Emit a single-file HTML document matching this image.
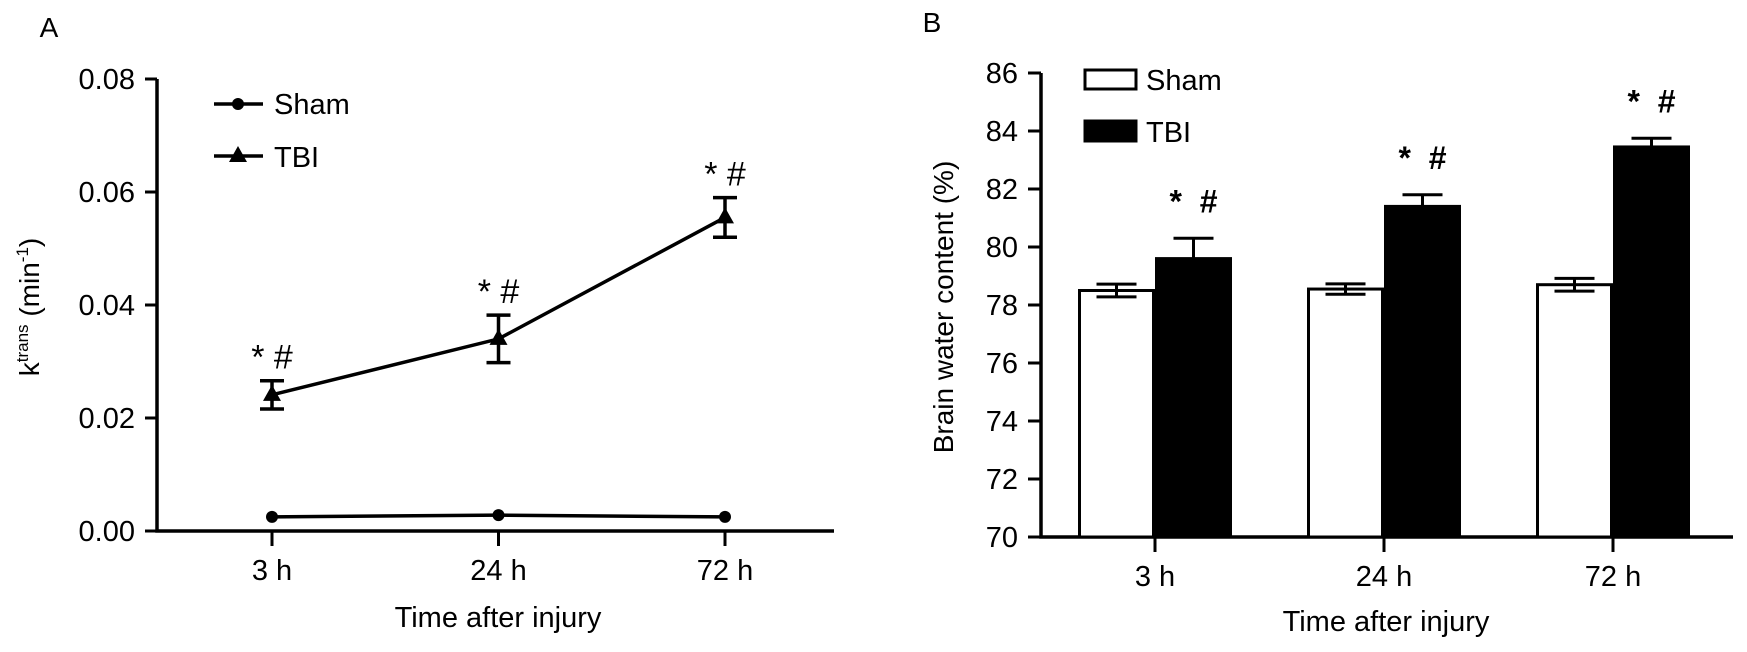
<!DOCTYPE html>
<html><head><meta charset="utf-8"><style>
html,body{margin:0;padding:0;background:#fff;}
svg{display:block;font-family:"Liberation Sans",Arial,sans-serif;}
</style></head><body>
<svg id="fig" width="1747" height="652" viewBox="0 0 1747 652">
<g id="panelA"></g>
<g id="panelB"></g>
</svg>
<script>
const categories = ["3 h","24 h","72 h"];
// Panel A
const aTicks = [0,0.02,0.04,0.06,0.08];
const aTickLabels = ["0.00","0.02","0.04","0.06","0.08"];
const aSham = [0.0025,0.0028,0.0025];
const aTbi = [0.0241,0.0340,0.0555];
const aTbiErr = [0.0025,0.0042,0.0035];
// Panel B
const bTicks = [70,72,74,76,78,80,82,84,86];
const bSham = [78.5,78.55,78.7];
const bShamErr = [0.22,0.18,0.22];
const bTbi = [79.6,81.4,83.45];
const bTbiErr = [0.7,0.4,0.3];

const NS="http://www.w3.org/2000/svg";
function mk(parent,tag,attrs,text){const e=document.createElementNS(NS,tag);for(const k in attrs)e.setAttribute(k,attrs[k]);if(text!==undefined)e.textContent=text;parent.appendChild(e);return e;}

// ---------- Panel A ----------
const A=document.getElementById('panelA');
const ayA=v=>531-(v-0)/0.08*452;
const axA=i=>272+i*226.5;
let t=mk(A,'text',{x:49,y:37,'font-size':28,'text-anchor':'middle'},'A');


let l=mk(A,'path',{d:`M157 ${ayA(0.08)} V531 H834`,stroke:'#000','stroke-width':3.5,fill:'none'});


aTicks.forEach((v,i)=>{
  const y=ayA(v);
  const tk=mk(A,'line',{x1:145,x2:157,y1:y,y2:y,stroke:'#000','stroke-width':3});
  
  
  const tl=mk(A,'text',{x:135,y:y+10,'font-size':29,'text-anchor':'end'},aTickLabels[i]);
  
  
});
categories.forEach((c,i)=>{
  const x=axA(i);
  const tk=mk(A,'line',{x1:x,x2:x,y1:531,y2:546,stroke:'#000','stroke-width':3});
  
  
  const tl=mk(A,'text',{x:x,y:580,'font-size':29,'text-anchor':'middle'},c);
  
  
});
t=mk(A,'text',{x:498,y:627,'font-size':29,'text-anchor':'middle'},'Time after injury');


t=mk(A,'text',{x:0,y:0,'font-size':28,'text-anchor':'middle',transform:'translate(39,307) rotate(-90)'});


t.innerHTML='k<tspan font-size="17" dy="-11">trans</tspan><tspan dy="11"> (min</tspan><tspan font-size="17" dy="-11">-1</tspan><tspan dy="11">)</tspan>';
l=mk(A,'polyline',{points:aSham.map((v,i)=>axA(i)+','+ayA(v)).join(' '),stroke:'#000','stroke-width':3.5,fill:'none'});


aSham.forEach((v,i)=>{
  const p=mk(A,'circle',{cx:axA(i),cy:ayA(v),r:6,fill:'#000'});
  
  
});
l=mk(A,'polyline',{points:aTbi.map((v,i)=>axA(i)+','+ayA(v)).join(' '),stroke:'#000','stroke-width':3.5,fill:'none'});


aTbi.forEach((v,i)=>{
  const x=axA(i),y=ayA(v),yt=ayA(v+aTbiErr[i]),yb=ayA(v-aTbiErr[i]);
  const e=mk(A,'path',{d:`M${x} ${yt} V${yb} M${x-12} ${yt} H${x+12} M${x-12} ${yb} H${x+12}`,stroke:'#000','stroke-width':3.5,fill:'none'});
  
  
  const p=mk(A,'path',{d:`M${x} ${y-10} L${x+9} ${y+6} L${x-9} ${y+6} Z`,fill:'#000'});
  
  
  const s=mk(A,'text',{x:x,y:yt-12,'font-size':34,'text-anchor':'middle'},'* #');
  
  
});
let g=mk(A,'g',{});


mk(g,'line',{x1:214,x2:263,y1:104,y2:104,stroke:'#000','stroke-width':3.5});
mk(g,'circle',{cx:238,cy:104,r:6,fill:'#000'});
mk(g,'text',{x:274,y:114,'font-size':29},'Sham');
g=mk(A,'g',{});


mk(g,'line',{x1:214,x2:263,y1:156,y2:156,stroke:'#000','stroke-width':3.5});
mk(g,'path',{d:'M238 146 L247 162 L229 162 Z',fill:'#000'});
mk(g,'text',{x:274,y:167,'font-size':29},'TBI');

// ---------- Panel B ----------
const B=document.getElementById('panelB');
const ayB=v=>537-(v-70)/16*464;
const axB=i=>1155+i*229;
t=mk(B,'text',{x:932,y:32,'font-size':28,'text-anchor':'middle'},'B');


l=mk(B,'path',{d:`M1041 ${ayB(86)} V537 H1733`,stroke:'#000','stroke-width':3.5,fill:'none'});


bTicks.forEach(v=>{
  const y=ayB(v);
  const tk=mk(B,'line',{x1:1028,x2:1041,y1:y,y2:y,stroke:'#000','stroke-width':3});
  
  
  const tl=mk(B,'text',{x:1018,y:y+10,'font-size':29,'text-anchor':'end'},String(v));
  
  
});
t=mk(B,'text',{x:0,y:0,'font-size':28,'text-anchor':'middle',transform:'translate(953,307) rotate(-90)'},'Brain water content (%)');


categories.forEach((c,i)=>{
  const x=axB(i);
  const tk=mk(B,'line',{x1:x,x2:x,y1:537,y2:552,stroke:'#000','stroke-width':3});
  
  
  const tl=mk(B,'text',{x:x,y:586,'font-size':29,'text-anchor':'middle'},c);
  
  
});
t=mk(B,'text',{x:1386,y:631,'font-size':29,'text-anchor':'middle'},'Time after injury');


const bw=74, gap=1.5;
categories.forEach((c,i)=>{
  const cx=axB(i);
  let y=ayB(bSham[i]);
  let r=mk(B,'rect',{x:cx-gap-bw,y:y,width:bw,height:537-y,fill:'#fff',stroke:'#000','stroke-width':3});
  
  
  let yt=ayB(bSham[i]+bShamErr[i]),yb=ayB(bSham[i]-bShamErr[i]),mx=cx-gap-bw/2;
  let e=mk(B,'path',{d:`M${mx} ${yt} V${yb} M${mx-20} ${yt} H${mx+20} M${mx-20} ${yb} H${mx+20}`,stroke:'#000','stroke-width':3,fill:'none'});
  
  
  y=ayB(bTbi[i]);
  r=mk(B,'rect',{x:cx+gap,y:y,width:bw,height:537-y,fill:'#000',stroke:'#000','stroke-width':3});
  
  
  yt=ayB(bTbi[i]+bTbiErr[i]);mx=cx+gap+bw/2;
  e=mk(B,'path',{d:`M${mx} ${yt} V${y} M${mx-20} ${yt} H${mx+20}`,stroke:'#000','stroke-width':3,fill:'none'});
  
  
  const s=mk(B,'text',{x:mx,y:yt-26,'font-size':32,'text-anchor':'middle','font-weight':'bold'},'*  #');
  
  
  s.setAttribute('style','white-space:pre');
});
g=mk(B,'g',{});


mk(g,'rect',{x:1085,y:70,width:51,height:19,fill:'#fff',stroke:'#000','stroke-width':3});
mk(g,'text',{x:1146,y:90,'font-size':29},'Sham');
g=mk(B,'g',{});


mk(g,'rect',{x:1085,y:121,width:51,height:20,fill:'#000',stroke:'#000','stroke-width':3});
mk(g,'text',{x:1146,y:142,'font-size':29},'TBI');
</script>
</body></html>
